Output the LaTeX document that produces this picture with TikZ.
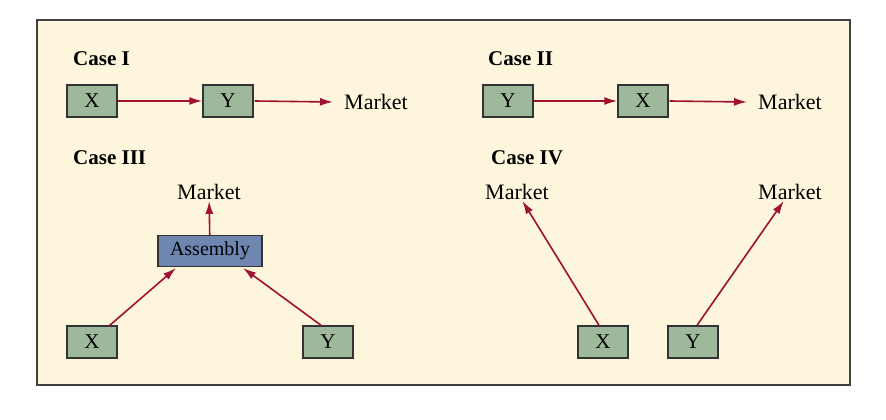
\documentclass[tikz,border=0pt]{standalone}
\usepackage{fontspec}
\setmainfont{Liberation Serif}
\usetikzlibrary{arrows.meta}
\begin{document}
\begin{tikzpicture}[x=1pt,y=-1pt,
  box/.style={draw=black!80,line width=1.4pt,fill=boxg,minimum width=50pt,minimum height=32pt,inner sep=0pt,font=\fontsize{21}{23}\selectfont},
  abox/.style={draw=black!80,line width=1.4pt,fill=boxb,minimum width=104pt,minimum height=31pt,inner sep=0pt,font=\fontsize{20}{22}\selectfont},
  lab/.style={font=\fontsize{22}{24}\selectfont,inner sep=1pt},
  case/.style={font=\bfseries\fontsize{21}{23}\selectfont,anchor=west,inner sep=0pt},
  arr/.style={draw=arrc,line width=1.6pt,-{Latex[length=13pt,width=8pt]}}]
\definecolor{bg}{HTML}{FDF5DC}
\definecolor{boxg}{HTML}{9DB89A}
\definecolor{boxb}{HTML}{6E86B0}
\definecolor{arrc}{HTML}{A01030}
\useasboundingbox (0,0) rectangle (886,420);
\fill[white] (0,0) rectangle (886,420);
\draw[fill=bg,draw=black!75,line width=1.5pt] (37,20) rectangle (850,385);
% Case I
\node[case] (c1) at (73,59) {Case I};
\node[box] (x1) at (92,101) {X};
\node[box] (y1) at (228,101) {Y};
\node[lab,anchor=west] (m1) at (343,102) {Market};
\draw[arr] (x1) -- (y1);
\draw[arr] ([xshift=1pt]y1.east) -- ([xshift=-10pt]m1.west);
% Case II
\node[case] (c2) at (488,59) {Case II};
\node[box] (y2) at (508,101) {Y};
\node[box] (x2) at (643,101) {X};
\node[lab,anchor=west] (m2) at (757,102) {Market};
\draw[arr] (y2) -- (x2);
\draw[arr] ([xshift=1pt]x2.east) -- ([xshift=-10pt]m2.west);
% Case III
\node[case] (c3) at (73,158) {Case III};
\node[lab] (m3) at (209,192) {Market};
\node[abox] (as) at (210,251) {Assembly};
\node[box] (x3) at (92,342) {X};
\node[box] (y3) at (328,342) {Y};
\coordinate (aa) at (176,268);
\coordinate (ab) at (243,268);
\coordinate (x3t) at (109,326);
\coordinate (y3t) at (322,326);
\draw[arr] (as) -- (m3);
\draw[arr] (x3t) -- (aa);
\draw[arr] (y3t) -- (ab);
% Case IV
\node[case] (c4) at (491,158) {Case IV};
\node[lab] (m4a) at (517,192) {Market};
\node[lab] (m4b) at (790,192) {Market};
\node[box] (x4) at (603,342) {X};
\node[box] (y4) at (693,342) {Y};
\draw[arr] ([xshift=-4pt]x4.north) -- (m4a);
\draw[arr] ([xshift=4pt]y4.north) -- (m4b);
\end{tikzpicture}
\end{document}
